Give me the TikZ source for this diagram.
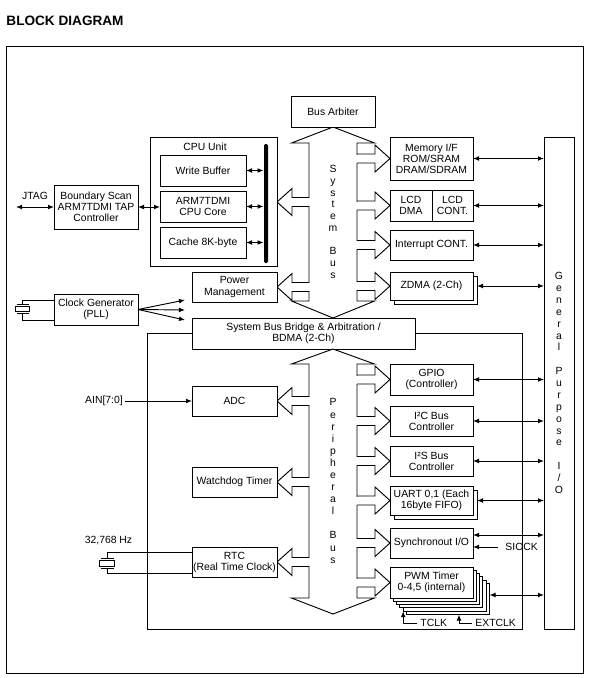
\documentclass[tikz,border=0pt]{standalone}
\usepackage{fontspec}
\setmainfont{Liberation Sans}
\usetikzlibrary{arrows.meta}
\newcommand\boxfont{\fontsize{7.8pt}{8.3pt}\selectfont}
\newcommand\mybox[6]{\node[box, minimum width={(#4-#2)*0.75pt}, minimum height={(#5-#3)*0.75pt}] (#1) at ({(#2+#4)/2},{(#3+#5)/2}) {#6};}
\newcommand\rbr[1]{\fill[white] (355.5,#1-4) rectangle (358.5,#1+4);
 \draw (357,#1-4.5) -- (375,#1-4.5) -- (375,#1-13.5) -- (390,#1) -- (375,#1+13.5) -- (375,#1+4.5) -- (357,#1+4.5);}
\newcommand\lbr[1]{\fill[white] (307.5,#1-4) rectangle (310.5,#1+4);
 \draw (309,#1-4.5) -- (292,#1-4.5) -- (292,#1-13.5) -- (277,#1) -- (292,#1+13.5) -- (292,#1+4.5) -- (309,#1+4.5);}
\begin{document}
\begin{tikzpicture}[x=0.75pt,y=-0.75pt,line width=0.7pt,
 box/.style={draw, fill=white, inner sep=0pt, outer sep=0pt, align=center, font=\boxfont},
 lbl/.style={inner sep=0pt, font=\boxfont},
 vtext/.style={inner sep=0pt, align=center},
 dbl/.style={{Latex[length=4.5pt,width=3.6pt]}-{Latex[length=4.5pt,width=3.6pt]}},
 sgl/.style={-{Latex[length=4.5pt,width=3.6pt]}}]
\useasboundingbox (0,0) rectangle (591,678);
\fill[white] (0,0) rectangle (591,678);

\node[anchor=base west, inner sep=0pt, font=\fontsize{10.2pt}{12pt}\selectfont\bfseries] (title) at (6,26) {BLOCK DIAGRAM};

% outer frame
\draw (6,46) rectangle (583,673);

% bridge first (for frame line)
\mybox{bridge}{192}{318}{415}{349}{System Bus Bridge \& Arbitration /\\BDMA (2-Ch)}
\draw (bridge.west) -| (147,629) -| (522,333.5) -- (bridge.east);

% system bus
\draw[fill=white] (333,127) -- (374.5,143) -- (357,143) -- (357,301) -- (374.5,301) -- (333,318) -- (291.5,301) -- (309,301) -- (309,143) -- (291.5,143) -- cycle;
\lbr{202} \lbr{287}
\rbr{158.5} \rbr{205.5} \rbr{245} \rbr{286}
\node[vtext, font=\fontsize{7.8pt}{8.8pt}\selectfont] (sbus) at (333,222) {S\\y\\s\\t\\e\\m\\[8.8pt]B\\u\\s};

% peripheral bus
\draw[fill=white] (333,349) -- (374.5,364) -- (357,364) -- (357,598) -- (374.5,598) -- (333,614) -- (291.5,598) -- (309,598) -- (309,364) -- (291.5,364) -- cycle;
\lbr{401} \lbr{482} \lbr{562}
\rbr{379.5} \rbr{421} \rbr{461} \rbr{500.5} \rbr{543} \rbr{582.5}
\node[vtext, font=\fontsize{7.8pt}{9.07pt}\selectfont] (pbus) at (333,481) {P\\e\\r\\i\\p\\h\\e\\r\\a\\l\\[9.07pt]B\\u\\s};

% boxes
\mybox{arb}{291}{96}{375}{127}{Bus Arbiter}
\mybox{cpu}{150}{137}{277}{266}{}
\node[lbl] (cpulbl) at (205,146.5) {CPU Unit};
\mybox{wb}{160}{155}{246}{186}{Write Buffer}
\mybox{core}{160}{191}{246}{222}{ARM7TDMI\\CPU Core}
\mybox{cache}{160}{227}{246}{258}{Cache 8K-byte}
\node[fill=black, inner sep=0pt, minimum width=3pt, minimum height={119*0.75pt}, rounded corners=1pt] (bar) at (266,203.5) {};
\mybox{bscan}{54}{185}{138}{229}{Boundary Scan\\ARM7TDMI TAP\\Controller}
\mybox{pm}{192}{272}{277}{302}{Power\\Management}
\mybox{clk}{54}{294}{138}{325}{Clock Generator\\(PLL)}
\mybox{mem}{390}{137}{473}{180}{Memory I/F\\ROM/SRAM\\DRAM/SDRAM}
\mybox{lcdd}{390}{190}{432}{221}{LCD\\DMA}
\mybox{lcdc}{432}{190}{473}{221}{LCD\\CONT.}
\mybox{intc}{390}{230}{473}{260}{Interrupt CONT.}
\mybox{zdmas}{394}{276}{477}{304}{}
\mybox{zdma}{390}{272}{473}{300}{ZDMA (2-Ch)}
\mybox{gpio}{390}{364}{473}{395}{GPIO\\(Controller)}
\mybox{iic}{390}{406}{473}{436}{I²C Bus\\Controller}
\mybox{iis}{390}{446}{473}{476}{I²S Bus\\Controller}
\mybox{uarts}{394}{490}{477}{519}{}
\mybox{uart}{390}{486}{473}{515}{UART 0,1 (Each\\16byte FIFO)}
\mybox{sio}{390}{528}{473}{558}{Synchronout I/O}
\mybox{pwmE}{406.5}{583.5}{489.5}{614.5}{}
\mybox{pwmD}{403.2}{580.2}{486.2}{611.2}{}
\mybox{pwmC}{399.9}{576.9}{482.9}{607.9}{}
\mybox{pwmB}{396.6}{573.6}{479.6}{604.6}{}
\mybox{pwmA}{393.3}{570.3}{476.3}{601.3}{}
\mybox{pwm}{390}{567}{473}{598}{PWM Timer\\0-4,5 (internal)}
\mybox{adc}{192}{386}{277}{416}{ADC}
\mybox{wdt}{192}{467}{277}{497}{Watchdog Timer}
\mybox{rtc}{192}{547}{277}{577}{RTC\\(Real Time Clock)}
\mybox{gpo}{544}{137}{574}{629}{}
\node[vtext, font=\fontsize{7.8pt}{8.9pt}\selectfont] (gpotext) at (559,383) {G\\e\\n\\e\\r\\a\\l\\[8.9pt]P\\u\\r\\p\\o\\s\\e\\[8.9pt]I\\/\\O};

% CPU internal arrows
\draw[dbl] (wb.east) -- (wb.east -| bar.west);
\draw[dbl] (core.east) -- (core.east -| bar.west);
\draw[dbl] (cache.east) -- (cache.east -| bar.west);
\draw[dbl] (bscan.east) -- (bscan.east -| core.west);

% JTAG
\coordinate (jtag) at (16,207);
\node[lbl] (jtaglbl) at (35,196) {JTAG};
\draw[dbl] (jtag) -- (bscan.west);

% clock generator fan
\coordinate (f1) at (185,300);
\coordinate (f2) at (185,310);
\coordinate (f3) at (185,320);
\draw[sgl] (clk.east) -- (f1);
\draw[sgl] (clk.east) -- (f2);
\draw[sgl] (clk.east) -- (f3);

% clock crystal
\coordinate (xa) at (22.5,300);
\coordinate (xb) at (22.5,320);
\draw (clk.west |- xa) -- (xa) -- (22.5,304);
\draw (16.5,304) -- (28.5,304);
\draw (15.5,306) rectangle (29.5,311);
\draw (16.5,313) -- (28.5,313);
\draw (22.5,313) -- (xb) -- (clk.west |- xb);

% ADC input
\node[lbl] (ain) at (104,401) {AIN[7:0]};
\draw[sgl] ([xshift=1.5pt]ain.east) -- (ain.east -| adc.west);

% RTC crystal
\node[lbl] (hz) at (108.5,541) {32,768 Hz};
\coordinate (ra) at (107,552);
\coordinate (rb) at (107,573);
\draw (rtc.west |- ra) -- (ra) -- (107,558);
\draw (100.5,558) -- (113.5,558);
\draw (99.5,560) rectangle (114.5,566);
\draw (100.5,568) -- (113.5,568);
\draw (107,568) -- (rb) -- (rtc.west |- rb);

% GP I/O connections
\draw[dbl] (mem.east) -- (mem.east -| gpo.west);
\draw[dbl] (lcdc.east) -- (lcdc.east -| gpo.west);
\draw[dbl] (intc.east) -- (intc.east -| gpo.west);
\draw[dbl] (zdma.east -| zdmas.east) -- (zdma.east -| gpo.west);
\draw[dbl] (gpio.east) -- (gpio.east -| gpo.west);
\draw[dbl] (iic.east) -- (iic.east -| gpo.west);
\draw[dbl] (iis.east) -- (iis.east -| gpo.west);
\draw[dbl] (uart.east -| uarts.east) -- (uart.east -| gpo.west);
\draw[dbl] ([yshift=6pt]sio.east) -- ([yshift=6pt]sio.east -| gpo.west);
\draw[dbl] ([yshift=3pt]pwmE.east) -- ([yshift=3pt]pwmE.east -| gpo.west);

% SIOCK
\node[lbl, anchor=west] (siock) at (505,547) {SIOCK};
\draw[sgl] ([xshift=-5.25pt]siock.west) -- (siock.west -| sio.east);

% TCLK / EXTCLK
\node[lbl, anchor=west] (tclk) at (420,623) {TCLK};
\node[lbl, anchor=west] (extclk) at (475,623) {EXTCLK};
\coordinate (extin) at (459,614.5);
\draw[sgl] ([xshift=-2.25pt]tclk.west) -| (pwmD.south west);
\draw[sgl] ([xshift=-2.25pt]extclk.west) -| (extin);
\end{tikzpicture}
\end{document}
